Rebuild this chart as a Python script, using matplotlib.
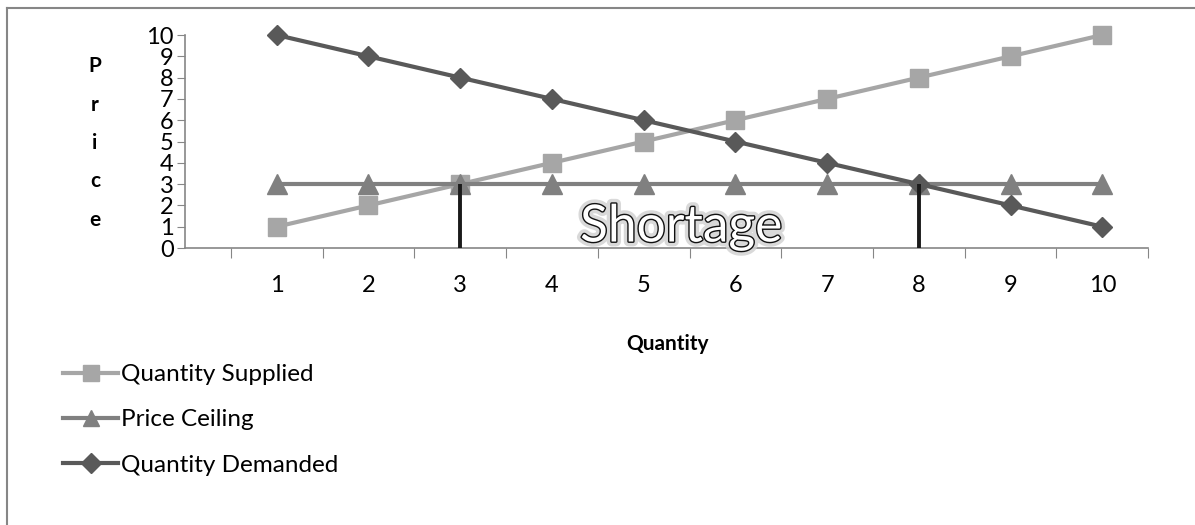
import matplotlib.pyplot as plt
import matplotlib.patheffects as pe
from matplotlib.lines import Line2D

# данные графика
quantity = [1, 2, 3, 4, 5, 6, 7, 8, 9, 10]
supplied = [1, 2, 3, 4, 5, 6, 7, 8, 9, 10]
ceiling = [3, 3, 3, 3, 3, 3, 3, 3, 3, 3]
demanded = [10, 9, 8, 7, 6, 5, 4, 3, 2, 1]
shortage_bounds = [3, 8]
price_ticks = list(range(0, 11))

plt.rcParams['font.family'] = ['Lato', 'DejaVu Sans']

fig = plt.figure(figsize=(11.95, 5.25), dpi=100)
ax = fig.add_axes([0.1548, 0.5276, 0.806, 0.4057])

ax.plot(quantity, supplied, color='#a6a6a6', lw=3, marker='s', ms=13,
        label='Quantity Supplied', zorder=3, clip_on=False)
ax.plot(quantity, ceiling, color='#808080', lw=3, marker='^', ms=14,
        label='Price Ceiling', zorder=4, clip_on=False)
ax.plot(quantity, demanded, color='#595959', lw=3, marker='D', ms=10,
        label='Quantity Demanded', zorder=5, clip_on=False)

# границы дефицита
ax.vlines(shortage_bounds, 0, ceiling[0], color='#1a1a1a', lw=2.8, zorder=6)

ax.text(5.41, 0.95, 'Shortage', fontsize=37, color='white', ha='center',
        va='center', zorder=7,
        path_effects=[pe.Stroke(linewidth=7, foreground='#d0d0d0', alpha=0.8),
                      pe.Stroke(linewidth=2, foreground='#111111'),
                      pe.Normal()])

ax.set_xlim(0, 10.5)
ax.set_ylim(0, 10)
ax.set_yticks(price_ticks)
ax.set_yticklabels([str(v) for v in price_ticks], fontsize=17)
ax.set_xticks([q - 0.5 for q in quantity] + [10.5])
ax.set_xticklabels([])
ax.tick_params(axis='x', length=7, color='#868686', direction='out')
ax.tick_params(axis='y', length=6, color='#868686', direction='out', pad=2)
for q in quantity:
    ax.text(q, -1.75, str(q), fontsize=17, ha='center', va='center',
            transform=ax.transData)

for side in ('top', 'right'):
    ax.spines[side].set_visible(False)
for side in ('left', 'bottom'):
    ax.spines[side].set_color('#868686')
    ax.spines[side].set_linewidth(1.2)

fig.text(0.5585, 1 - 344 / 525, 'Quantity', fontsize=15, fontweight='bold',
         ha='center', va='center')
fig.text(0.0795, 1 - 143 / 525, 'P\nr\ni\nc\ne', fontsize=15, fontweight='bold',
         ha='center', va='center', linespacing=2.15)

# легенда
handles = [
    Line2D([], [], color='#a6a6a6', lw=3, marker='s', ms=12),
    Line2D([], [], color='#808080', lw=3, marker='^', ms=12),
    Line2D([], [], color='#595959', lw=3, marker='D', ms=10),
]
labels = ['Quantity Supplied', 'Price Ceiling', 'Quantity Demanded']
fig.legend(handles, labels, loc='upper left', bbox_to_anchor=(0.045, 0.325),
           frameon=False, fontsize=17.5, handlelength=2.25, handletextpad=0.1,
           labelspacing=1.0, borderaxespad=0)

# рамка
fig.add_artist(Line2D([7 / 1195, 7 / 1195], [0, 1 - 8 / 525],
                      transform=fig.transFigure, color='#868686', lw=1.5))
fig.add_artist(Line2D([7 / 1195, 1], [1 - 8 / 525, 1 - 8 / 525],
                      transform=fig.transFigure, color='#868686', lw=1.5))

fig.savefig('out.png', dpi=100)
